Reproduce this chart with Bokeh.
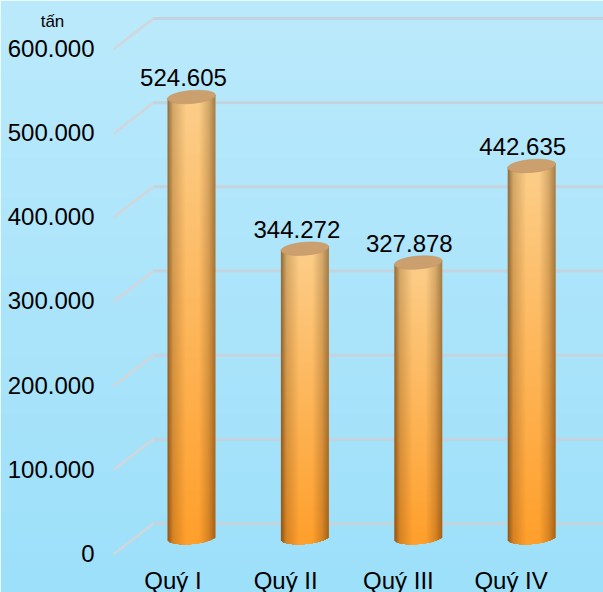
import numpy as np
from bokeh.plotting import figure
from bokeh.models import LinearAxis, FixedTicker, Range1d
from bokeh.embed import file_html
from bokeh.resources import INLINE
from bokeh.core.properties import value

categories = ["Quý I", "Quý II", "Quý III", "Quý IV"]
values = [524605, 344272, 327878, 442635]
value_labels = ["524.605", "344.272", "327.878", "442.635"]
y_ticks = [0, 100000, 200000, 300000, 400000, 500000, 600000]
y_tick_labels = ["0", "100.000", "200.000", "300.000", "400.000", "500.000", "600.000"]
unit_label = "tấn"

W, H = 603, 592
PX_PER_X = 113.4
X0_PX = 77.6
PX_PER_Y = 84.17 / 100000
Y0_PX = 553.0
FONT = "Liberation Sans"

def x_of(px):
    return (px - X0_PX) / PX_PER_X

def y_of(py):
    return (Y0_PX - py) / PX_PER_Y

p = figure(width=W, height=H, output_backend="svg", toolbar_location=None,
           x_range=Range1d(x_of(0), x_of(W)), y_range=Range1d(y_of(H), y_of(0)),
           x_axis_type=None, y_axis_type=None, min_border=0, outline_line_color=None)
p.grid.visible = False

# background gradient
top_col = np.array([187, 234, 252])
bot_col = np.array([157, 224, 250])
t = np.linspace(0, 1, H)[:, None]
rgb = bot_col * (1 - t) + top_col * t
bg = np.zeros((H, 1), dtype=np.uint32)
view = bg.view(np.uint8).reshape((H, 1, 4))
view[:, :, :3] = rgb[:, None, :].astype(np.uint8)
view[:, :, 3] = 255
p.image_rgba(image=[bg], x=[x_of(0)], y=[y_of(H)], dw=[W / PX_PER_X], dh=[H / PX_PER_Y])

# gridlines in pseudo 3D
depth_x = 39 / PX_PER_X
depth_y = 30 / PX_PER_Y
front_x = x_of(114)
grid_color = "#c4d3dd"
p.segment(x0=[front_x] * len(y_ticks), y0=y_ticks,
          x1=[front_x + depth_x] * len(y_ticks), y1=[v + depth_y for v in y_ticks],
          line_color="#d0d6d9", line_width=2.5, line_cap="round")
p.segment(x0=[front_x + depth_x] * len(y_ticks), y0=[v + depth_y for v in y_ticks],
          x1=[x_of(W)] * len(y_ticks), y1=[v + depth_y for v in y_ticks],
          line_color=grid_color, line_width=3)

# cylinders
BAR_PX = 48
RY = 6.5
TILT = 2.0
base_v = depth_y / 2
x_pos = [i + 1 for i in range(len(values))]

def cylinder(val):
    top_px = val * PX_PER_Y
    h = int(round(top_px + RY + 6))
    w = BAR_PX * 2
    img = np.zeros((h, w), dtype=np.uint32)
    v = img.view(np.uint8).reshape((h, w, 4))
    u = (np.arange(w) + 0.5) / w * 2 - 1
    # row 0 is the bottom of the image; yy = pixels above the base centre
    yy = np.arange(h)[:, None] - (RY + 3)
    frac = np.clip(yy / top_px, 0, 1)
    # horizontal shade profile: dark edge, bright at 40% across, dark edge
    stops = np.array([-1, -0.78, -0.25, 0.3, 0.7, 1.0])
    shade = np.array([0.58, 0.84, 1.0, 1.0, 0.85, 0.64])
    s = np.interp(u, stops, shade)[None, :, None] ** np.array([1.0, 1.15, 1.5])
    c_top = np.array([252, 206, 138])
    c_bot = np.array([255, 160, 45])
    col = c_bot[None, None, :] * (1 - frac[:, :, None]) + c_top[None, None, :] * frac[:, :, None]
    col = col * s
    v[:, :, :3] = np.clip(col, 0, 255).astype(np.uint8)
    sq = np.sqrt(np.clip(1 - u ** 2, 0, 1))
    lower = -RY * sq + TILT * u
    upper = top_px + TILT * u
    mask = (yy >= lower[None, :]) & (yy <= upper[None, :])
    v[:, :, 3] = np.where(mask, 255, 0)
    return img

images = [cylinder(val) for val in values]
dw = BAR_PX / PX_PER_X
p.image_rgba(image=images, x=[x - dw / 2 for x in x_pos],
             y=[base_v - (RY + 3) / PX_PER_Y] * len(values),
             dw=[dw] * len(values), dh=[im.shape[0] / PX_PER_Y for im in images])

tops = [base_v + val for val in values]
p.ellipse(x=x_pos, y=tops, width=BAR_PX, height=RY * 2, width_units="screen", height_units="screen",
          angle=np.arctan2(TILT, BAR_PX / 2), fill_color="#cba06e", line_color="#bd9464", line_width=0.5)

# value labels
p.text(x=x_pos, y=tops, text=value_labels, x_offset=[-8, -8, -9, -9], y_offset=-19,
       text_align="center", text_baseline="middle", text_color="#000000",
       text_font=value(FONT), text_font_size="24px")

p.text(x=[x_of(52)], y=[y_of(21)], text=[unit_label], text_align="center", text_baseline="middle",
       text_color="#000000", text_font=value(FONT), text_font_size="17px")

# axes
yaxis = LinearAxis(ticker=FixedTicker(ticks=y_ticks),
                   major_label_overrides=dict(zip(y_ticks, y_tick_labels)),
                   fixed_location=front_x, axis_line_color=None, major_tick_line_color=None,
                   minor_tick_line_color=None, major_label_standoff=14,
                   major_label_text_font=FONT, major_label_text_font_size="24px",
                   major_label_text_color="#000000")
p.add_layout(yaxis, "left")

x_ticks = [x - (18.5 + i * 0.7) / PX_PER_X for i, x in enumerate(x_pos)]
xaxis = LinearAxis(ticker=FixedTicker(ticks=x_ticks),
                   major_label_overrides=dict(zip(x_ticks, categories)),
                   fixed_location=0, axis_line_color=None, major_tick_line_color=None,
                   minor_tick_line_color=None, major_label_standoff=7,
                   major_label_text_font=FONT, major_label_text_font_size="24px",
                   major_label_text_color="#000000")
p.add_layout(xaxis, "below")

open("out.html", "w").write(file_html(p, INLINE))
